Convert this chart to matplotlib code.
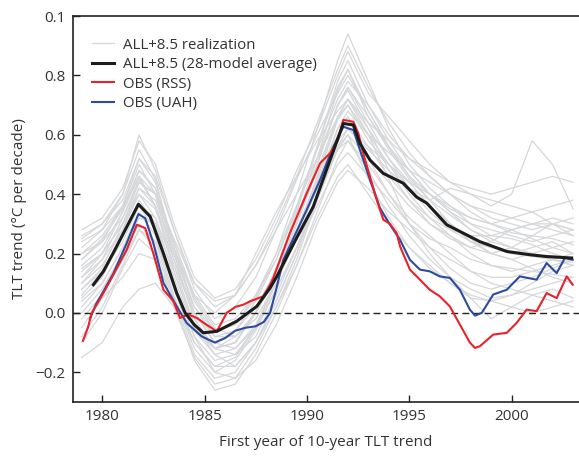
import matplotlib
matplotlib.use("Agg")
import matplotlib.pyplot as plt

plt.rcParams['font.family'] = ['Open Sans', 'DejaVu Sans']

# ---- data ----
# knots (first year of trend) for the gray model realizations
knot_years = [1979.0, 1980.0, 1981.0, 1981.8, 1982.6, 1983.5, 1984.5, 1985.5, 1986.5,
              1987.5, 1988.5, 1989.5, 1990.5, 1991.5, 1992.0, 1993.0, 1994.0, 1995.0,
              1996.0, 1997.0, 1998.0, 1999.0, 2000.0, 2001.0, 2002.0, 2003.0]

realizations = [
    [0.10, 0.18, 0.32, 0.45, 0.36, 0.14, -0.05, -0.12, -0.08, 0.00, 0.15, 0.32, 0.52, 0.75, 0.82, 0.66, 0.55, 0.45, 0.38, 0.33, 0.28, 0.25, 0.22, 0.20, 0.18, 0.16],
    [0.22, 0.28, 0.40, 0.55, 0.45, 0.22, 0.02, -0.06, -0.04, 0.05, 0.20, 0.40, 0.62, 0.85, 0.94, 0.78, 0.62, 0.50, 0.42, 0.36, 0.30, 0.26, 0.25, 0.23, 0.20, 0.18],
    [-0.10, 0.00, 0.15, 0.25, 0.20, 0.02, -0.15, -0.24, -0.22, -0.12, 0.02, 0.18, 0.38, 0.55, 0.60, 0.45, 0.32, 0.22, 0.15, 0.10, 0.05, 0.04, 0.06, 0.08, 0.10, 0.12],
    [0.05, 0.12, 0.26, 0.38, 0.30, 0.10, -0.08, -0.16, -0.14, -0.05, 0.10, 0.28, 0.45, 0.65, 0.70, 0.58, 0.50, 0.42, 0.36, 0.30, 0.24, 0.22, 0.20, 0.22, 0.24, 0.20],
    [0.28, 0.32, 0.42, 0.58, 0.50, 0.30, 0.12, 0.05, 0.08, 0.18, 0.32, 0.48, 0.62, 0.80, 0.88, 0.74, 0.66, 0.58, 0.50, 0.44, 0.40, 0.38, 0.36, 0.34, 0.30, 0.26],
    [0.15, 0.20, 0.30, 0.40, 0.35, 0.18, 0.00, -0.10, -0.12, -0.05, 0.08, 0.22, 0.40, 0.58, 0.62, 0.55, 0.48, 0.42, 0.38, 0.42, 0.40, 0.36, 0.40, 0.58, 0.50, 0.35],
    [-0.05, 0.05, 0.12, 0.20, 0.18, 0.05, -0.10, -0.18, -0.15, -0.05, 0.12, 0.30, 0.48, 0.66, 0.72, 0.60, 0.45, 0.30, 0.20, 0.12, 0.05, -0.02, 0.02, 0.06, 0.08, 0.05],
    [0.18, 0.25, 0.35, 0.48, 0.42, 0.24, 0.06, -0.04, -0.02, 0.06, 0.18, 0.35, 0.55, 0.72, 0.78, 0.70, 0.60, 0.52, 0.46, 0.40, 0.36, 0.32, 0.30, 0.28, 0.30, 0.32],
    [0.00, 0.08, 0.20, 0.30, 0.24, 0.05, -0.14, -0.22, -0.20, -0.10, 0.04, 0.20, 0.40, 0.60, 0.66, 0.52, 0.40, 0.30, 0.22, 0.15, 0.10, 0.08, 0.10, 0.12, 0.15, 0.18],
    [0.12, 0.18, 0.28, 0.42, 0.38, 0.20, 0.02, -0.08, -0.06, 0.02, 0.14, 0.30, 0.50, 0.70, 0.75, 0.62, 0.52, 0.44, 0.36, 0.30, 0.25, 0.20, 0.18, 0.15, 0.12, 0.10],
    [0.20, 0.26, 0.36, 0.50, 0.40, 0.18, -0.02, -0.12, -0.10, 0.00, 0.15, 0.34, 0.56, 0.78, 0.85, 0.70, 0.58, 0.48, 0.40, 0.35, 0.32, 0.30, 0.28, 0.25, 0.22, 0.20],
    [-0.15, -0.10, 0.02, 0.08, 0.10, 0.02, -0.06, -0.12, -0.10, 0.00, 0.14, 0.28, 0.42, 0.55, 0.58, 0.50, 0.40, 0.32, 0.26, 0.20, 0.14, 0.10, 0.08, 0.06, 0.04, 0.02],
    [0.08, 0.15, 0.30, 0.44, 0.40, 0.22, 0.05, -0.05, -0.08, -0.02, 0.10, 0.25, 0.42, 0.62, 0.68, 0.60, 0.54, 0.48, 0.44, 0.40, 0.34, 0.30, 0.27, 0.26, 0.25, 0.23],
    [0.25, 0.30, 0.38, 0.52, 0.46, 0.28, 0.08, -0.02, 0.02, 0.12, 0.28, 0.45, 0.60, 0.74, 0.80, 0.68, 0.56, 0.46, 0.38, 0.30, 0.24, 0.20, 0.18, 0.20, 0.22, 0.24],
    [0.02, 0.10, 0.22, 0.34, 0.26, 0.06, -0.12, -0.20, -0.16, -0.06, 0.08, 0.22, 0.36, 0.50, 0.54, 0.46, 0.38, 0.30, 0.25, 0.22, 0.18, 0.16, 0.15, 0.14, 0.13, 0.12],
    [0.16, 0.22, 0.34, 0.46, 0.36, 0.16, -0.04, -0.14, -0.18, -0.10, 0.04, 0.20, 0.38, 0.56, 0.62, 0.56, 0.50, 0.44, 0.40, 0.36, 0.32, 0.30, 0.32, 0.34, 0.36, 0.38],
    [-0.08, 0.02, 0.16, 0.28, 0.22, 0.04, -0.16, -0.26, -0.24, -0.14, 0.00, 0.16, 0.32, 0.46, 0.50, 0.40, 0.30, 0.22, 0.16, 0.10, 0.06, 0.04, 0.02, 0.00, 0.02, 0.04],
    [0.10, 0.16, 0.28, 0.40, 0.32, 0.12, -0.06, -0.14, -0.12, -0.04, 0.10, 0.26, 0.46, 0.66, 0.72, 0.62, 0.48, 0.38, 0.30, 0.26, 0.22, 0.20, 0.22, 0.26, 0.30, 0.28],
    [0.24, 0.28, 0.36, 0.46, 0.40, 0.25, 0.10, 0.04, 0.06, 0.20, 0.34, 0.46, 0.58, 0.68, 0.72, 0.64, 0.58, 0.52, 0.48, 0.44, 0.42, 0.40, 0.42, 0.44, 0.46, 0.44],
    [0.06, 0.14, 0.26, 0.36, 0.28, 0.08, -0.10, -0.18, -0.18, -0.10, 0.02, 0.16, 0.34, 0.52, 0.58, 0.48, 0.36, 0.26, 0.18, 0.12, 0.08, 0.05, 0.06, 0.10, 0.14, 0.16],
    [0.18, 0.24, 0.36, 0.52, 0.44, 0.22, 0.00, -0.10, -0.06, 0.04, 0.18, 0.36, 0.56, 0.76, 0.82, 0.68, 0.56, 0.46, 0.40, 0.34, 0.30, 0.28, 0.26, 0.24, 0.26, 0.28],
    [0.14, 0.20, 0.30, 0.42, 0.36, 0.20, 0.06, 0.00, 0.06, 0.16, 0.28, 0.40, 0.52, 0.66, 0.70, 0.60, 0.50, 0.40, 0.32, 0.26, 0.20, 0.16, 0.14, 0.16, 0.18, 0.20],
    [0.04, 0.10, 0.22, 0.32, 0.30, 0.14, -0.04, -0.12, -0.14, -0.08, 0.06, 0.22, 0.40, 0.56, 0.60, 0.52, 0.44, 0.36, 0.30, 0.25, 0.22, 0.24, 0.28, 0.30, 0.32, 0.30],
    [0.20, 0.24, 0.32, 0.44, 0.40, 0.24, 0.04, -0.06, -0.04, 0.06, 0.20, 0.36, 0.52, 0.70, 0.76, 0.66, 0.56, 0.48, 0.40, 0.34, 0.28, 0.24, 0.22, 0.20, 0.18, 0.16],
    [-0.02, 0.06, 0.18, 0.28, 0.24, 0.10, -0.08, -0.20, -0.22, -0.16, -0.04, 0.12, 0.30, 0.44, 0.48, 0.42, 0.34, 0.28, 0.22, 0.18, 0.14, 0.12, 0.12, 0.14, 0.16, 0.18],
    [0.12, 0.20, 0.34, 0.48, 0.42, 0.20, -0.02, -0.12, -0.10, 0.00, 0.14, 0.30, 0.50, 0.70, 0.76, 0.64, 0.52, 0.42, 0.34, 0.28, 0.24, 0.22, 0.20, 0.19, 0.18, 0.17],
    [0.26, 0.30, 0.40, 0.60, 0.48, 0.28, 0.10, 0.02, 0.06, 0.16, 0.30, 0.46, 0.64, 0.82, 0.90, 0.76, 0.64, 0.54, 0.46, 0.40, 0.36, 0.34, 0.32, 0.30, 0.28, 0.26],
    [0.08, 0.14, 0.24, 0.36, 0.32, 0.16, 0.00, -0.08, -0.08, 0.00, 0.12, 0.26, 0.44, 0.62, 0.66, 0.56, 0.46, 0.38, 0.32, 0.28, 0.26, 0.26, 0.28, 0.30, 0.30, 0.28],
]

# 28-model average
avg_years = [1979.57, 1980.06, 1980.6, 1981.2, 1981.77, 1982.34, 1982.99, 1983.64, 1984.05,
             1984.5, 1984.94, 1985.6, 1986.57, 1987.55, 1988.2, 1988.53, 1989.4, 1990.31,
             1991.13, 1991.78, 1992.27, 1992.59, 1993.08, 1993.73, 1994.7, 1995.36, 1995.85,
             1996.83, 1998.45, 1999.76, 2000.89, 2001.7, 2002.93]
avg_vals = [0.095, 0.14, 0.21, 0.29, 0.366, 0.325, 0.20, 0.067, 0.0,
            -0.04, -0.067, -0.062, -0.028, 0.022, 0.084, 0.123, 0.24, 0.358,
            0.515, 0.638, 0.633, 0.571, 0.515, 0.47, 0.437, 0.39, 0.37,
            0.297, 0.24, 0.207, 0.196, 0.19, 0.185]

# observations, RSS
rss_years = [1979.06, 1979.3, 1979.49, 1980.06, 1980.55, 1981.2, 1981.69, 1982.1, 1982.5,
             1982.99, 1983.48, 1983.8, 1984.2, 1984.62, 1985.1, 1985.6, 1986.08, 1986.5,
             1986.9, 1987.22, 1987.87, 1988.2, 1988.36, 1989.17, 1989.99, 1990.64, 1991.13,
             1991.5, 1991.78, 1992.27, 1992.51, 1992.75, 1993.08, 1993.41, 1993.73, 1994.06,
             1994.38, 1994.55, 1995.03, 1995.52, 1996.0, 1996.49, 1996.98, 1997.47, 1997.96,
             1998.21, 1998.45, 1999.1, 1999.76, 2000.24, 2000.73, 2001.22, 2001.71, 2002.2,
             2002.69, 2002.98]
rss_vals = [-0.094, -0.05, 0.0, 0.067, 0.129, 0.213, 0.297, 0.286, 0.20,
            0.078, 0.039, -0.017, -0.005, -0.017, -0.04, -0.062, 0.0, 0.02,
            0.028, 0.039, 0.056, 0.095, 0.118, 0.269, 0.403, 0.504, 0.538,
            0.58, 0.65, 0.644, 0.605, 0.538, 0.459, 0.381, 0.314, 0.30,
            0.269, 0.224, 0.146, 0.112, 0.078, 0.056, 0.022, -0.039, -0.10,
            -0.118, -0.112, -0.073, -0.067, -0.034, 0.011, 0.006, 0.067, 0.05,
            0.123, 0.095]

# observations, UAH
uah_years = [1979.4, 1979.7, 1980.06, 1980.55, 1981.2, 1981.77, 1982.1, 1982.5, 1982.99,
             1983.64, 1984.13, 1984.86, 1985.5, 1986.0, 1986.5, 1987.0, 1987.5, 1987.9,
             1988.2, 1988.5, 1988.85, 1989.99, 1990.64, 1991.29, 1991.78, 1992.27, 1992.59,
             1993.08, 1993.57, 1994.06, 1994.55, 1995.03, 1995.52, 1996.0, 1996.49, 1996.98,
             1997.47, 1997.96, 1998.21, 1998.54, 1999.1, 1999.76, 2000.4, 2001.22, 2001.71,
             2002.2, 2002.6, 2002.98]
uah_vals = [-0.02, 0.03, 0.073, 0.134, 0.235, 0.333, 0.319, 0.235, 0.101,
            0.022, -0.034, -0.079, -0.10, -0.085, -0.06, -0.05, -0.045, -0.03,
            0.0, 0.08, 0.179, 0.347, 0.448, 0.56, 0.627, 0.616, 0.549,
            0.448, 0.353, 0.297, 0.246, 0.179, 0.146, 0.14, 0.123, 0.118,
            0.078, 0.011, -0.009, 0.0, 0.062, 0.078, 0.123, 0.112, 0.168,
            0.134, 0.185, 0.179]

ytick_vals = [-0.2, 0.0, 0.2, 0.4, 0.6, 0.8, 1.0]
ytick_text = ['\u22120.2', '0.0', '0.2', '0.4', '0.6', '0.8', '0.1']
xtick_vals = [1980, 1985, 1990, 1995, 2000]

# ---- drawing ----
txt = '#333333'
fig = plt.figure(figsize=(5.79, 4.58), dpi=100)
ax = fig.add_axes([0.1256, 0.1223, 0.8744, 0.8427])

for i, r in enumerate(realizations):
    ax.plot(knot_years, r, color='#d6d7d9', lw=0.9, zorder=1,
            label='ALL+8.5 realization' if i == 0 else None)

ax.axhline(0, color='#222222', lw=1.0, ls=(0, (5, 3)), zorder=2)

ax.plot(avg_years, avg_vals, color='#1c1c1c', lw=2.2, zorder=5,
        label='ALL+8.5 (28-model average)')
ax.plot(rss_years, rss_vals, color='#e8212b', lw=1.5, zorder=4, label='OBS (RSS)')
ax.plot(uah_years, uah_vals, color='#2c4b9f', lw=1.5, zorder=3, label='OBS (UAH)')

ax.set_xlim(1978.56, 2003.29)
ax.set_ylim(-0.3, 1.0)
ax.set_xticks(xtick_vals)
ax.set_yticks(ytick_vals)
ax.set_yticklabels(ytick_text)
ax.tick_params(direction='in', length=5, width=1, colors='#222222',
               labelcolor=txt, labelsize=11, pad=5)

for s in ['left', 'bottom', 'top']:
    ax.spines[s].set_linewidth(1.2)
    ax.spines[s].set_color('#222222')
ax.spines['right'].set_visible(False)

ax.set_xlabel('First year of 10-year TLT trend', fontsize=11, color=txt, labelpad=8)
ax.set_ylabel('TLT trend (\u00b0C per decade)', fontsize=11, color=txt, labelpad=6)

handles, labels = ax.get_legend_handles_labels()
order = [labels.index(l) for l in ['ALL+8.5 realization', 'ALL+8.5 (28-model average)',
                                   'OBS (RSS)', 'OBS (UAH)']]
leg = ax.legend([handles[k] for k in order], [labels[k] for k in order],
                loc='upper left', bbox_to_anchor=(0.038, 0.944), frameon=False,
                fontsize=10.8, handlelength=1.5, handletextpad=0.55,
                labelspacing=0.3, borderaxespad=0, borderpad=0)
for t in leg.get_texts():
    t.set_color(txt)

fig.savefig('out.png', dpi=100)
